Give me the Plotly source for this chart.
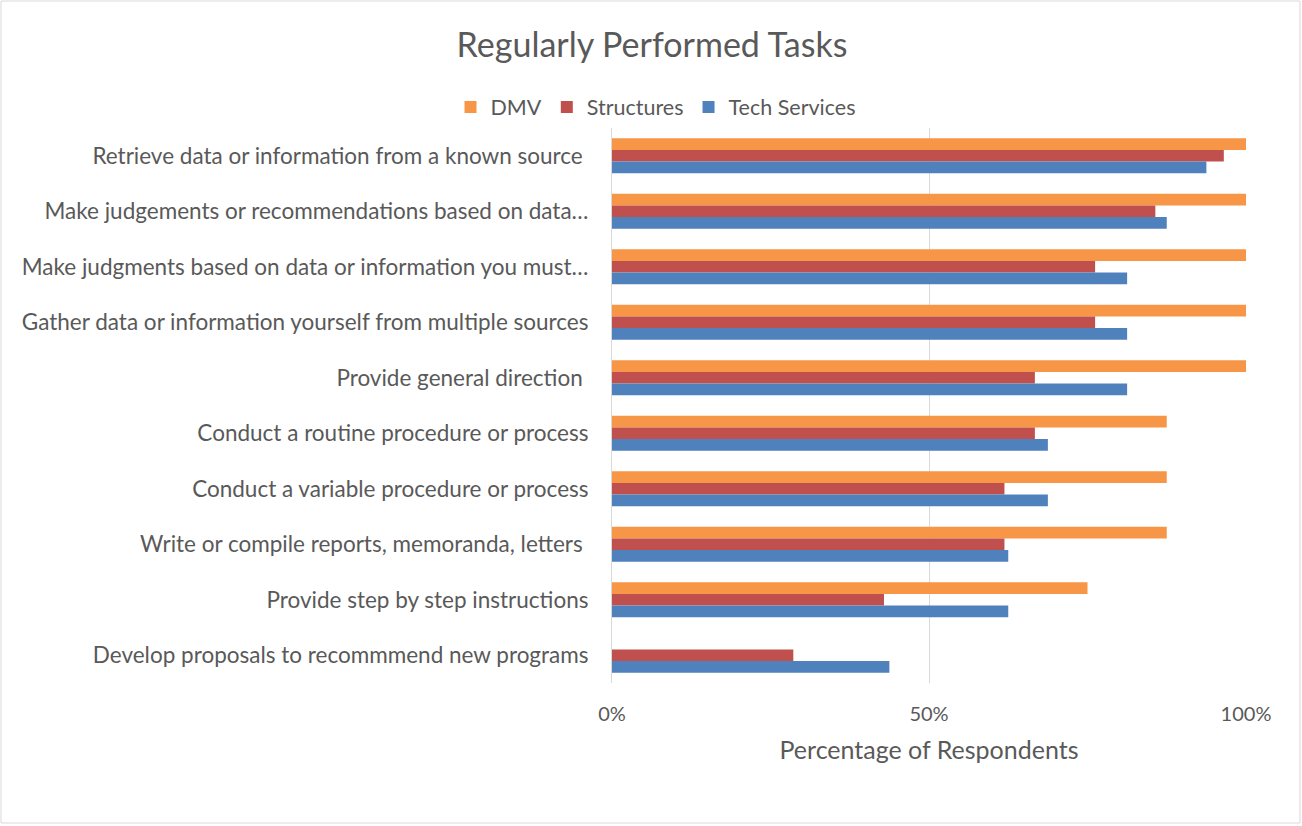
import plotly.graph_objects as go

tasks = [
    "Retrieve data or information from a known source ",
    "Make judgements or recommendations based on data…",
    "Make judgments based on data or information you must…",
    "Gather data or information yourself from multiple sources",
    "Provide general direction ",
    "Conduct a routine procedure or process",
    "Conduct a variable procedure or process",
    "Write or compile reports, memoranda, letters ",
    "Provide step by step instructions",
    "Develop proposals to recommmend new programs",
]

dmv = [100, 100, 100, 100, 100, 87.5, 87.5, 87.5, 75, 0]
structures = [96.5, 85.7, 76.2, 76.2, 66.7, 66.7, 61.9, 61.9, 42.9, 28.6]
tech_services = [93.75, 87.5, 81.25, 81.25, 81.25, 68.75, 68.75, 62.5, 62.5, 43.75]

series = [
    ("DMV", dmv, "#F79646"),
    ("Structures", structures, "#C0504D"),
    ("Tech Services", tech_services, "#4F81BD"),
]

font_family = "Lato, 'Open Sans', sans-serif"
grey = "#595959"

fig = go.Figure()

for name, vals, color in series:
    fig.add_trace(
        go.Bar(
            y=tasks,
            x=vals,
            name=name,
            orientation="h",
            marker=dict(color=color, line=dict(width=0)),
        )
    )

# plot area in the page: x 612..1246, y 128..683
W, H = 1302, 826
L, T = 612, 128
R, B = W - 1246, H - 683
pw, ph = W - L - R, H - T - B

fig.update_layout(
    width=W,
    height=H,
    margin=dict(l=L, r=R, t=T, b=B),
    paper_bgcolor="white",
    plot_bgcolor="white",
    barmode="group",
    bargap=0.37,
    bargroupgap=0,
    font=dict(family=font_family, color=grey, size=22),
    title=dict(
        text="Regularly Performed Tasks",
        x=652 / W,
        xanchor="center",
        y=1 - 45 / H,
        yanchor="middle",
        font=dict(size=34, color=grey),
    ),
    legend=dict(
        orientation="h",
        x=(656 - L) / pw,
        xanchor="center",
        y=1 + (T - 107) / ph,
        yanchor="middle",
        font=dict(size=21.5, color=grey),
        traceorder="normal",
        itemwidth=30,
    ),
    xaxis=dict(
        range=[0, 100],
        tickvals=[0, 50, 100],
        ticktext=["0%", "50%", "100%"],
        showgrid=True,
        gridcolor="#D9D9D9",
        gridwidth=1,
        zeroline=False,
        showline=False,
        ticks="",
        ticklabelstandoff=17,
        tickfont=dict(size=20, color=grey),
        title=dict(text="Percentage of Respondents", font=dict(size=25, color=grey), standoff=17),
    ),
    yaxis=dict(
        autorange="reversed",
        showgrid=False,
        showline=True,
        linecolor="#D9D9D9",
        linewidth=1,
        ticks="",
        ticklabelstandoff=18,
        tickfont=dict(size=22.5, color=grey),
    ),
    shapes=[
        dict(
            type="rect",
            xref="paper",
            yref="paper",
            x0=(1 - L) / pw,
            x1=(1300 - L) / pw,
            y0=(683 - 823) / ph,
            y1=(683 - 1) / ph,
            line=dict(color="#D9D9D9", width=1),
            layer="below",
        )
    ],
)

# drop the default body margin so the figure sits at the page origin
fig.write_html(
    "out.html",
    config={"displayModeBar": False},
    post_script="document.body.style.margin='0';",
)
